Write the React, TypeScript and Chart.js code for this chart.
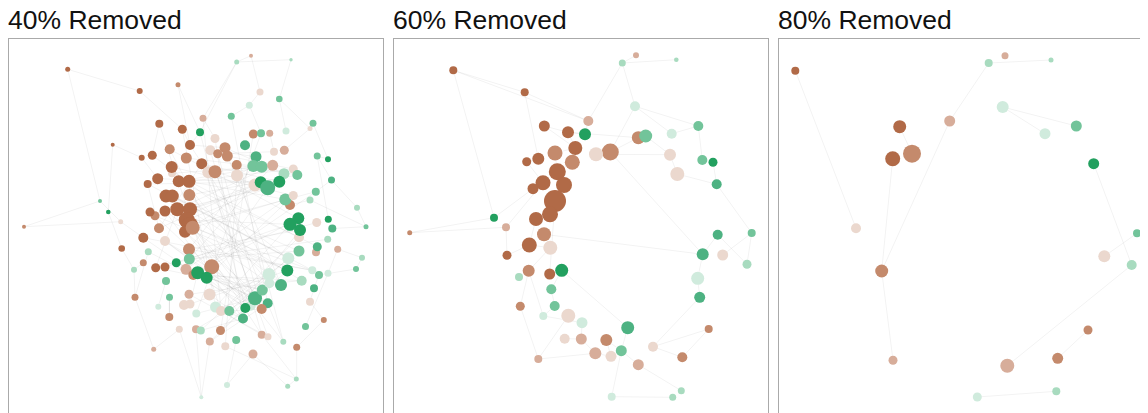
import React, { useEffect, useRef } from "react";
import { Chart, registerables } from "chart.js";

Chart.register(...registerables);

// node: [x, y, size, tone]  (layout units; tone -4 = strong brown ... 5 = strong green)
type NodeT = [number, number, number, number];
type EdgeT = [number, number];

const panelTitles = ["40% Removed", "60% Removed", "80% Removed"];

const toneColors: Record<string, string> = {
  "-4": "#b16a47",
  "-3": "#c48a6c",
  "-2": "#d7ad9a",
  "-1": "#ebd8ce",
  "1": "#d0ebdd",
  "2": "#a8dbbf",
  "3": "#72c49a",
  "4": "#4db282",
  "5": "#22a05f",
};

const nodes40: NodeT[] = [
  [58.7, 30.3, 2.5, -4], [227.7, 23, 2.5, 2], [242, 16.7, 2, -2], [282, 20.7, 1.7, 2],
  [130.7, 52, 3, -4], [169, 45.7, 2.5, -3], [251, 53, 3.5, -1], [270.3, 60, 3.3, 3],
  [240.3, 66.3, 3.5, 1], [194, 79.3, 3.5, -2], [222.3, 77.3, 3.5, 3], [150.3, 84.7, 4, -4],
  [173.3, 90.3, 4.5, -4], [191, 93.3, 4, 5], [206, 99.5, 4.5, -1], [244.3, 95, 4.5, -3],
  [252, 94.3, 4, 3], [260.7, 94.3, 3.5, -2], [277, 92, 3.5, 1], [301, 89.5, 2.5, -1],
  [304, 84.3, 3.5, 3], [103.7, 105.7, 2, -4], [181, 106, 5, -4], [160.7, 110.3, 5, -3],
  [143.3, 116.3, 4.5, -4], [132.7, 118.7, 3, -4], [216, 108.7, 5.5, -3], [201.3, 111.3, 5, -1],
  [208.7, 114.7, 4.5, -3], [218.3, 117, 5.5, -3], [177.3, 119, 5.5, -3], [192.7, 124.7, 5.5, -4],
  [163, 134.3, 4, -1], [162.7, 128, 6, -4], [227.7, 126, 5, -3], [199.3, 133.3, 6, -1],
  [206, 132.7, 6.5, -3], [228, 136.5, 6, -1], [148.7, 139.7, 5.5, -4], [169.7, 142.3, 6, -4],
  [180, 142.3, 6.5, -4], [138.7, 145, 4, -4], [180.3, 156, 6, -3], [157, 157, 6.5, -4],
  [163.3, 157, 6.5, -4], [91, 162, 2, 3], [99.3, 173, 2.3, 5], [146, 176.7, 4.5, -3],
  [141, 173, 4.5, -4], [156, 172, 5.5, -4], [168.3, 170.3, 7, -4], [181, 170.3, 7, -4],
  [111.7, 182.7, 2.5, -1], [177.7, 181, 8, -4], [181, 186, 8, -4], [176, 192.7, 6, -4],
  [183.7, 188.7, 7, -3], [150, 189.3, 5, -3], [134.3, 198.7, 5, -4], [156, 202, 5, -1],
  [15, 187.7, 2, -3], [112.7, 209.5, 3.3, -4], [139.3, 212.7, 3.5, 2], [180, 210.3, 6, -3],
  [180.3, 220, 5.5, 3], [134.3, 223.7, 3.5, -3], [167.3, 223.7, 4.5, 5], [146.7, 228.7, 4.5, -4],
  [156, 228, 4.5, -4], [177, 230.3, 5.5, -2], [202.7, 227.7, 7.5, -3], [184.3, 236, 5, -3],
  [188.7, 233.7, 6.5, 5], [197.7, 238.7, 6, 5], [125, 230.7, 3, 2], [157, 242, 4, 3],
  [180, 255.3, 4.5, -2], [200.5, 255.5, 6, -1], [126, 258.3, 3.5, -3], [160.5, 258.2, 3.5, 3],
  [149.3, 267.7, 3, 1], [175, 266, 5, -1], [181, 265, 4.5, -1], [206.5, 268, 5.5, 1],
  [212, 272, 5, -1], [220.3, 272, 5, 3], [187.3, 274.5, 4, 1], [160.3, 278, 4, -3],
  [170.3, 290.3, 3.5, -1], [187, 290.2, 4, -2], [191.8, 291.5, 4, 2], [211.5, 291.5, 4.5, -3],
  [200.8, 302.5, 4, -2], [227.2, 301, 4, 3], [216.3, 307.3, 4, -1], [144.7, 310.3, 2.5, -2],
  [244, 315, 4.5, -2], [252.7, 295.7, 4, -2], [259, 297.8, 3.5, -1], [274.3, 302.7, 3, 2],
  [287.7, 308.3, 3.5, -3], [296.5, 287.5, 3.5, 3], [314.8, 281, 3, -3], [301, 262.7, 4, -1],
  [305, 249.3, 4, 4], [292.7, 241.7, 5, 2], [310, 236, 4, 3], [319, 234.3, 3.5, 1],
  [272, 246, 6, 4], [258.7, 264.3, 5, 4], [252.7, 270, 5, -3], [234, 279.5, 5, 4],
  [241.7, 266.7, 5, 1], [236.3, 269, 5, 5], [246, 259.3, 7, 4], [253.3, 251, 5.5, 3],
  [260, 235.5, 6.5, 1], [260.3, 244.3, 5, 1], [278.3, 231.5, 6, 5], [303.3, 231.3, 4, 1],
  [218, 346, 3, 1], [287.3, 340, 2.5, 2], [278.7, 347.3, 2.5, 2], [192.3, 358.3, 2, 1],
  [347, 230, 3, 3], [353, 218.7, 3, 2], [328.7, 210.2, 3.5, -2], [307, 213.3, 4, -2],
  [308.3, 207.7, 4.5, 4], [318.7, 200.3, 3.5, 2], [290, 212, 5.5, 3], [279.3, 219.3, 6, 1],
  [290, 198.3, 5, -1], [289.3, 179.3, 6, 5], [281, 185.3, 6.5, 5], [291, 191, 6, 5],
  [307.7, 183.5, 4.5, -1], [319.3, 180.2, 3.5, 5], [323.3, 189.5, 4, 4], [357, 187.7, 2.5, 3],
  [348, 168.7, 3, 2], [281, 166, 5, -3], [276.3, 160.5, 6, 3], [284.3, 156.5, 4.5, -1],
  [301, 161, 3.5, 2], [306.8, 152.7, 4, 3], [322.5, 141, 3.5, 4], [308.2, 117, 3.5, 3],
  [319, 120.2, 3, 5], [236, 106.3, 5, 4], [265, 112.7, 4, -1], [275.3, 111.3, 4.5, -2],
  [247, 117.7, 5.5, 4], [244.3, 127, 6, 3], [252.7, 127.7, 6, 3], [263.7, 126.3, 5.5, -2],
  [284.3, 130, 4.5, -1], [288.3, 136, 5, 3], [275, 134.7, 5.5, 2], [246, 146, 6.5, -1],
  [251.7, 143.3, 6, 5], [258.7, 148.7, 7.5, 4], [270.3, 142.7, 6, 5],
];

const edges40: EdgeT[] = [
  [0, 4], [0, 45], [1, 3], [1, 2], [1, 9], [1, 13], [2, 6], [3, 7], [6, 8], [7, 19], [8, 16],
  [4, 12], [5, 13], [5, 22], [21, 46], [21, 25], [60, 45], [60, 52], [45, 52], [46, 61],
  [52, 58], [61, 74], [74, 78], [78, 95], [95, 88], [88, 123], [123, 92], [120, 93], [120, 96],
  [96, 122], [122, 121], [121, 100], [100, 102], [102, 103], [103, 104], [104, 106], [106, 124],
  [124, 125], [125, 126], [126, 107], [139, 140], [139, 138], [140, 146], [146, 147], [147, 148],
  [148, 20], [20, 19], [19, 151], [18, 7], [10, 8], [9, 14], [11, 24], [12, 22], [17, 150],
  [145, 146], [144, 139], [137, 147], [141, 144], [99, 109], [97, 98], [101, 107], [105, 117],
  [97, 121], [94, 121], [89, 123], [79, 87], [80, 75], [62, 78], [65, 74], [57, 41], [38, 25],
  [26, 22], [23, 30],
  [30, 133], [40, 142], [43, 116], [44, 131], [50, 155], [51, 160], [53, 134], [54, 118],
  [55, 109], [56, 119], [63, 135], [64, 130], [69, 115], [70, 110], [71, 105], [73, 113],
  [36, 161], [37, 153], [35, 154], [31, 162], [33, 143], [39, 132], [42, 116], [49, 117],
  [59, 112], [66, 114], [72, 108], [76, 98], [77, 111], [83, 111], [84, 97], [85, 110],
  [29, 156], [28, 150], [27, 152], [34, 157], [26, 158], [24, 131], [41, 131], [47, 118],
  [68, 134], [64, 129], [63, 119], [62, 112], [58, 119], [57, 159], [59, 109], [67, 136],
  [40, 128], [44, 130], [53, 161], [54, 145], [55, 160], [56, 142], [22, 13], [31, 57],
  [50, 67], [72, 82], [91, 113], [86, 114], [90, 111], [89, 115], [92, 109],
  [13, 113], [14, 111], [27, 97], [28, 110], [9, 84], [10, 109], [15, 91], [16, 86], [35, 98],
  [36, 115], [37, 94], [34, 99], [29, 108], [31, 114], [33, 117], [43, 105], [44, 119],
  [50, 161], [51, 162], [39, 155], [40, 156], [42, 157], [64, 155], [63, 153], [69, 142],
  [70, 161], [71, 133], [73, 143], [72, 145], [76, 117], [77, 116], [82, 118], [83, 134],
  [84, 130], [85, 131], [90, 132], [91, 135], [92, 118], [67, 115], [66, 109], [59, 110],
  [58, 113], [56, 99], [55, 112], [54, 97], [53, 114], [49, 111], [47, 112], [41, 162],
  [38, 160], [32, 154], [30, 153], [22, 108], [23, 112], [12, 83], [11, 84],
];

const nodes60: NodeT[] = [
  [59.3, 31.3, 4, -4], [228.3, 24, 3.5, 2], [242, 16.3, 3, -2], [282.3, 20.7, 2.3, 2],
  [130.7, 53.3, 4, -4], [241, 67.3, 5, 1], [194.3, 82, 5, -2], [150.3, 87, 5.5, -4],
  [174, 93.3, 6, -4], [191, 95.3, 6, 5], [244.3, 98.7, 6.5, -3], [251.7, 97, 6.5, 3],
  [304.3, 87, 5, 3], [277.7, 94.7, 5, 1], [181.3, 109, 7, -4], [161, 114, 7.5, -3],
  [216.3, 113, 8.5, -3], [202, 115.3, 7, -1], [144.3, 119.7, 6, -4], [132.7, 122.7, 4.5, -4],
  [178.3, 123.3, 7.5, -3], [276, 115.7, 6, -1], [308.3, 121, 5, 3], [319, 123.3, 4.5, 5],
  [163.3, 132.7, 8.5, -4], [283.3, 135, 7, -1], [149, 143.7, 7.5, -4], [170, 146, 8, -4],
  [139, 149.7, 5.5, -4], [322.7, 145.3, 5, 4], [161, 162, 11, -4], [156, 175.3, 8, -4],
  [142, 180, 7, -4], [100, 178.7, 4, 5], [112, 188.3, 4, -2], [15.7, 193.7, 2.5, -3],
  [150, 195.3, 7, -3], [135.3, 206, 7.5, -4], [156.3, 208.7, 7, -1], [113, 216.3, 4.5, -4],
  [323.7, 195.7, 5, 4], [357.7, 194, 4, 3], [308.7, 215.3, 6, 4], [328.7, 216, 5.5, -1],
  [353, 225.3, 4.5, 2], [134.7, 231.7, 6, -3], [155.7, 235, 5.5, -4], [167.7, 231.3, 6.5, 5],
  [125, 238, 4, 2], [303.7, 239.3, 6.5, 1], [157.3, 250.3, 5, 3], [305.7, 258.3, 5.5, 4],
  [126.3, 267.3, 4.5, -3], [160.7, 267, 5, 3], [149.3, 277, 4, 1], [174.3, 276.7, 7, -1],
  [188, 283.7, 5.5, 1], [233.7, 288.7, 6.5, 4], [314.7, 290, 4, -3], [170.7, 299.7, 5, -1],
  [187.3, 300, 5.5, -2], [212.3, 301, 6, -3], [259, 307.7, 5, -1], [201.3, 314.3, 6, -2],
  [217, 317.3, 5.5, -1], [227.3, 311.7, 5.5, 3], [288.3, 318.3, 5, -3], [144.3, 320, 4, -2],
  [244.3, 325.7, 5.5, -2], [217.7, 357.7, 4, 1], [278.7, 358.3, 3.5, 2], [287.3, 351.7, 3.5, 2],
];

const edges60: EdgeT[] = [
  [0, 4], [0, 33], [0, 6], [4, 18], [4, 6], [1, 3], [1, 2], [1, 6], [1, 5], [5, 12], [5, 13],
  [5, 16], [12, 22], [12, 13], [10, 11], [11, 21], [16, 17], [16, 10], [21, 25], [25, 29],
  [22, 23], [23, 29], [29, 41], [16, 42], [36, 42], [41, 44], [40, 44], [40, 42], [43, 41],
  [49, 42], [51, 49], [62, 51], [62, 58], [62, 66], [58, 66], [47, 57], [57, 65], [65, 68],
  [68, 71], [69, 70], [69, 65], [48, 45], [54, 56], [56, 60], [59, 60], [60, 63], [63, 64],
  [64, 61], [61, 65], [67, 55], [67, 63], [35, 33], [35, 34], [45, 52], [45, 54], [50, 53],
  [53, 54], [46, 47], [47, 50], [9, 8], [9, 6], [14, 15], [18, 19], [19, 26], [24, 27],
  [26, 28], [27, 30], [30, 31], [31, 32], [32, 37], [37, 38], [36, 38], [38, 45], [34, 39],
  [39, 37], [20, 24], [15, 24], [7, 8], [7, 14], [8, 14], [52, 67], [17, 21], [30, 46],
  [8, 10], [28, 33], [26, 34],
];

const nodes80: NodeT[] = [
  [16.3, 31.7, 4, -4], [209.7, 24, 4, 2], [226, 16.7, 3.5, -2], [272, 21, 2.5, 2],
  [223.7, 68, 6, 1], [297.3, 87, 5.5, 3], [266, 94.7, 5.5, 1], [170.7, 82, 5.5, -2],
  [120.7, 87.7, 6.5, -4], [113.7, 119.7, 7.5, -4], [133, 114.7, 9, -3], [314.7, 124.7, 5.5, 5],
  [77, 189.3, 5, -1], [358, 194.3, 4, 3], [325.3, 217.3, 6, -1], [352.7, 226, 5, 2],
  [102.7, 232, 6.5, -3], [309, 291, 4.5, -3], [278.7, 319.3, 5.5, -3], [114, 321.3, 4.5, -2],
  [228.3, 326.7, 7, -2], [198.3, 358, 4.5, 1], [277.3, 352.3, 4, 2],
];

const edges80: EdgeT[] = [
  [0, 12], [1, 3], [1, 7], [7, 16], [9, 16], [8, 10], [4, 5], [4, 6], [11, 15], [14, 13],
  [15, 20], [16, 19], [17, 18], [21, 22],
];

const panelNodes = [nodes40, nodes60, nodes80];
const panelEdges = [edges40, edges60, edges80];

const LAYOUT_MIN = 0;
const LAYOUT_MAX = 374;

function NetworkPanel({ title, nodes, edges }: { title: string; nodes: NodeT[]; edges: EdgeT[] }) {
  const ref = useRef<HTMLCanvasElement | null>(null);

  useEffect(() => {
    if (!ref.current) return;
    const edgeData: { x: number; y: number }[] = [];
    for (const [a, b] of edges) {
      edgeData.push({ x: nodes[a][0], y: nodes[a][1] });
      edgeData.push({ x: nodes[b][0], y: nodes[b][1] });
      edgeData.push({ x: NaN, y: NaN });
    }
    const chart = new Chart(ref.current, {
      type: "bubble",
      data: {
        datasets: [
          {
            type: "line",
            data: edgeData,
            borderColor: "rgba(0,0,0,0.05)",
            borderWidth: 1,
            pointRadius: 0,
            pointHoverRadius: 0,
            spanGaps: false,
            tension: 0,
            fill: false,
            order: 2,
          } as any,
          {
            type: "bubble",
            data: nodes.map((n) => ({ x: n[0], y: n[1], r: n[2] })),
            backgroundColor: nodes.map((n) => toneColors[String(n[3])]),
            borderWidth: 0,
            hoverBorderWidth: 0,
            order: 1,
          } as any,
        ],
      },
      options: {
        animation: false,
        responsive: false,
        maintainAspectRatio: false,
        devicePixelRatio: 1,
        events: [],
        layout: { padding: 0, autoPadding: false } as any,
        plugins: { legend: { display: false }, tooltip: { enabled: false }, title: { display: false } },
        scales: {
          x: { type: "linear", min: LAYOUT_MIN, max: LAYOUT_MAX, display: false },
          y: { type: "linear", min: LAYOUT_MIN, max: LAYOUT_MAX, reverse: true, display: false },
        },
      },
    });
    return () => chart.destroy();
  }, [nodes, edges]);

  return (
    <div style={{ flex: "0 0 auto", width: 376 }}>
      <div
        style={{
          height: 30,
          lineHeight: "24px",
          fontFamily: '"Liberation Sans", Arial, sans-serif',
          fontSize: 26.5,
          color: "#111",
          whiteSpace: "nowrap",
        }}
      >
        {title}
      </div>
      <div style={{ width: 374, height: 374, border: "1px solid #aaaaaa", background: "#fff" }}>
        <canvas ref={ref} width={374} height={374} style={{ display: "block", width: 374, height: 374 }} />
      </div>
    </div>
  );
}

export default function App() {
  return (
    <div style={{ display: "flex", gap: 9, width: 1140, height: 405, overflow: "hidden" }}>
      {panelTitles.map((t, i) => (
        <NetworkPanel key={t} title={t} nodes={panelNodes[i]} edges={panelEdges[i]} />
      ))}
    </div>
  );
}
